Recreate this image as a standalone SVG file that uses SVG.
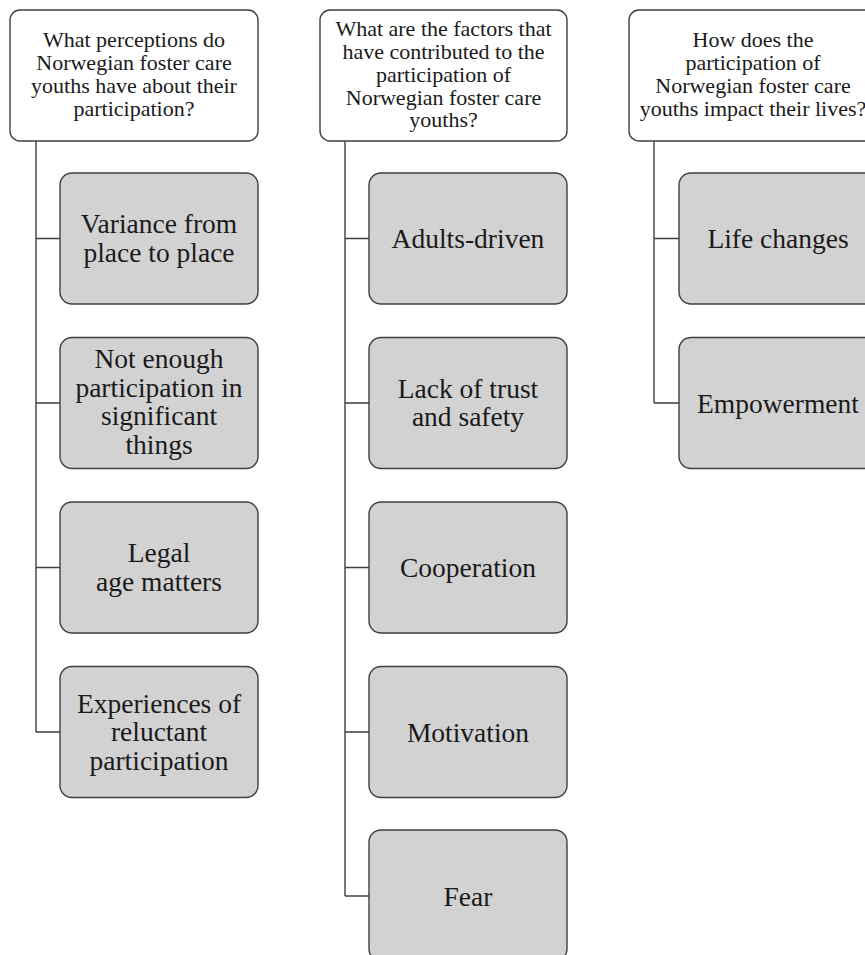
<svg xmlns="http://www.w3.org/2000/svg" width="865" height="955" viewBox="0 0 865 955">
<style>
.hd{fill:#ffffff;stroke:#3f3f3f;stroke-width:1.4}
.ch{fill:#d2d2d2;stroke:#3f3f3f;stroke-width:1.4}
.ht{font-family:"Liberation Serif","Times New Roman",serif;font-size:22px;fill:#1a1a1a;text-anchor:middle}
.ct{font-family:"Liberation Serif","Times New Roman",serif;font-size:27.5px;fill:#1a1a1a;text-anchor:middle}
.cn{fill:none;stroke:#3f3f3f;stroke-width:1.4}
</style>
<rect width="865" height="955" fill="#ffffff"/>
<g id="connectors">
<path class="cn" d="M36 141 V732 M36 238.5 H60 M36 403 H60 M36 567.5 H60 M36 732 H60"/>
<path class="cn" d="M345 141 V896 M345 238.5 H369 M345 403 H369 M345 567.5 H369 M345 732 H369 M345 896 H369"/>
<path class="cn" d="M654 141 V403 M654 238.5 H679 M654 403 H679"/>
</g>
<g id="h1">
<rect class="hd" x="10" y="10" width="248" height="131" rx="10"/>
<text class="ht" x="134" y="47">What perceptions do</text>
<text class="ht" x="134" y="70">Norwegian foster care</text>
<text class="ht" x="134" y="93">youths have about their</text>
<text class="ht" x="134" y="115.5">participation?</text>
</g>
<g id="h2">
<rect class="hd" x="320" y="10" width="247" height="131" rx="10"/>
<text class="ht" x="443.5" y="36">What are the factors that</text>
<text class="ht" x="443.5" y="59">have contributed to the</text>
<text class="ht" x="443.5" y="81.5">participation of</text>
<text class="ht" x="443.5" y="104.5">Norwegian foster care</text>
<text class="ht" x="443.5" y="127">youths?</text>
</g>
<g id="h3">
<rect class="hd" x="629" y="10" width="248" height="131" rx="10"/>
<text class="ht" x="753" y="47">How does the</text>
<text class="ht" x="753" y="70">participation of</text>
<text class="ht" x="753" y="93">Norwegian foster care</text>
<text class="ht" x="753" y="115.5">youths impact their lives?</text>
</g>
<g id="c1a">
<rect class="ch" x="60" y="173" width="198" height="131" rx="12"/>
<text class="ct" x="159" y="233">Variance from</text>
<text class="ct" x="159" y="261.5">place to place</text>
</g>
<g id="c1b">
<rect class="ch" x="60" y="337.5" width="198" height="131" rx="12"/>
<text class="ct" x="159" y="368">Not enough</text>
<text class="ct" x="159" y="396.5">participation in</text>
<text class="ct" x="159" y="425">significant</text>
<text class="ct" x="159" y="453.5">things</text>
</g>
<g id="c1c">
<rect class="ch" x="60" y="502" width="198" height="131" rx="12"/>
<text class="ct" x="159" y="562">Legal</text>
<text class="ct" x="159" y="590.5">age matters</text>
</g>
<g id="c1d">
<rect class="ch" x="60" y="666.5" width="198" height="131" rx="12"/>
<text class="ct" x="159" y="712.5">Experiences of</text>
<text class="ct" x="159" y="741">reluctant</text>
<text class="ct" x="159" y="769.5">participation</text>
</g>
<g id="c2a">
<rect class="ch" x="369" y="173" width="198" height="131" rx="12"/>
<text class="ct" x="468" y="248">Adults-driven</text>
</g>
<g id="c2b">
<rect class="ch" x="369" y="337.5" width="198" height="131" rx="12"/>
<text class="ct" x="468" y="397.5">Lack of trust</text>
<text class="ct" x="468" y="426">and safety</text>
</g>
<g id="c2c">
<rect class="ch" x="369" y="502" width="198" height="131" rx="12"/>
<text class="ct" x="468" y="577">Cooperation</text>
</g>
<g id="c2d">
<rect class="ch" x="369" y="666.5" width="198" height="131" rx="12"/>
<text class="ct" x="468" y="741.5">Motivation</text>
</g>
<g id="c2e">
<rect class="ch" x="369" y="830" width="198" height="131" rx="12"/>
<text class="ct" x="468" y="905.5">Fear</text>
</g>
<g id="c3a">
<rect class="ch" x="679" y="173" width="198" height="131" rx="12"/>
<text class="ct" x="778" y="248">Life changes</text>
</g>
<g id="c3b">
<rect class="ch" x="679" y="337.5" width="198" height="131" rx="12"/>
<text class="ct" x="778" y="412.5">Empowerment</text>
</g>
</svg>
